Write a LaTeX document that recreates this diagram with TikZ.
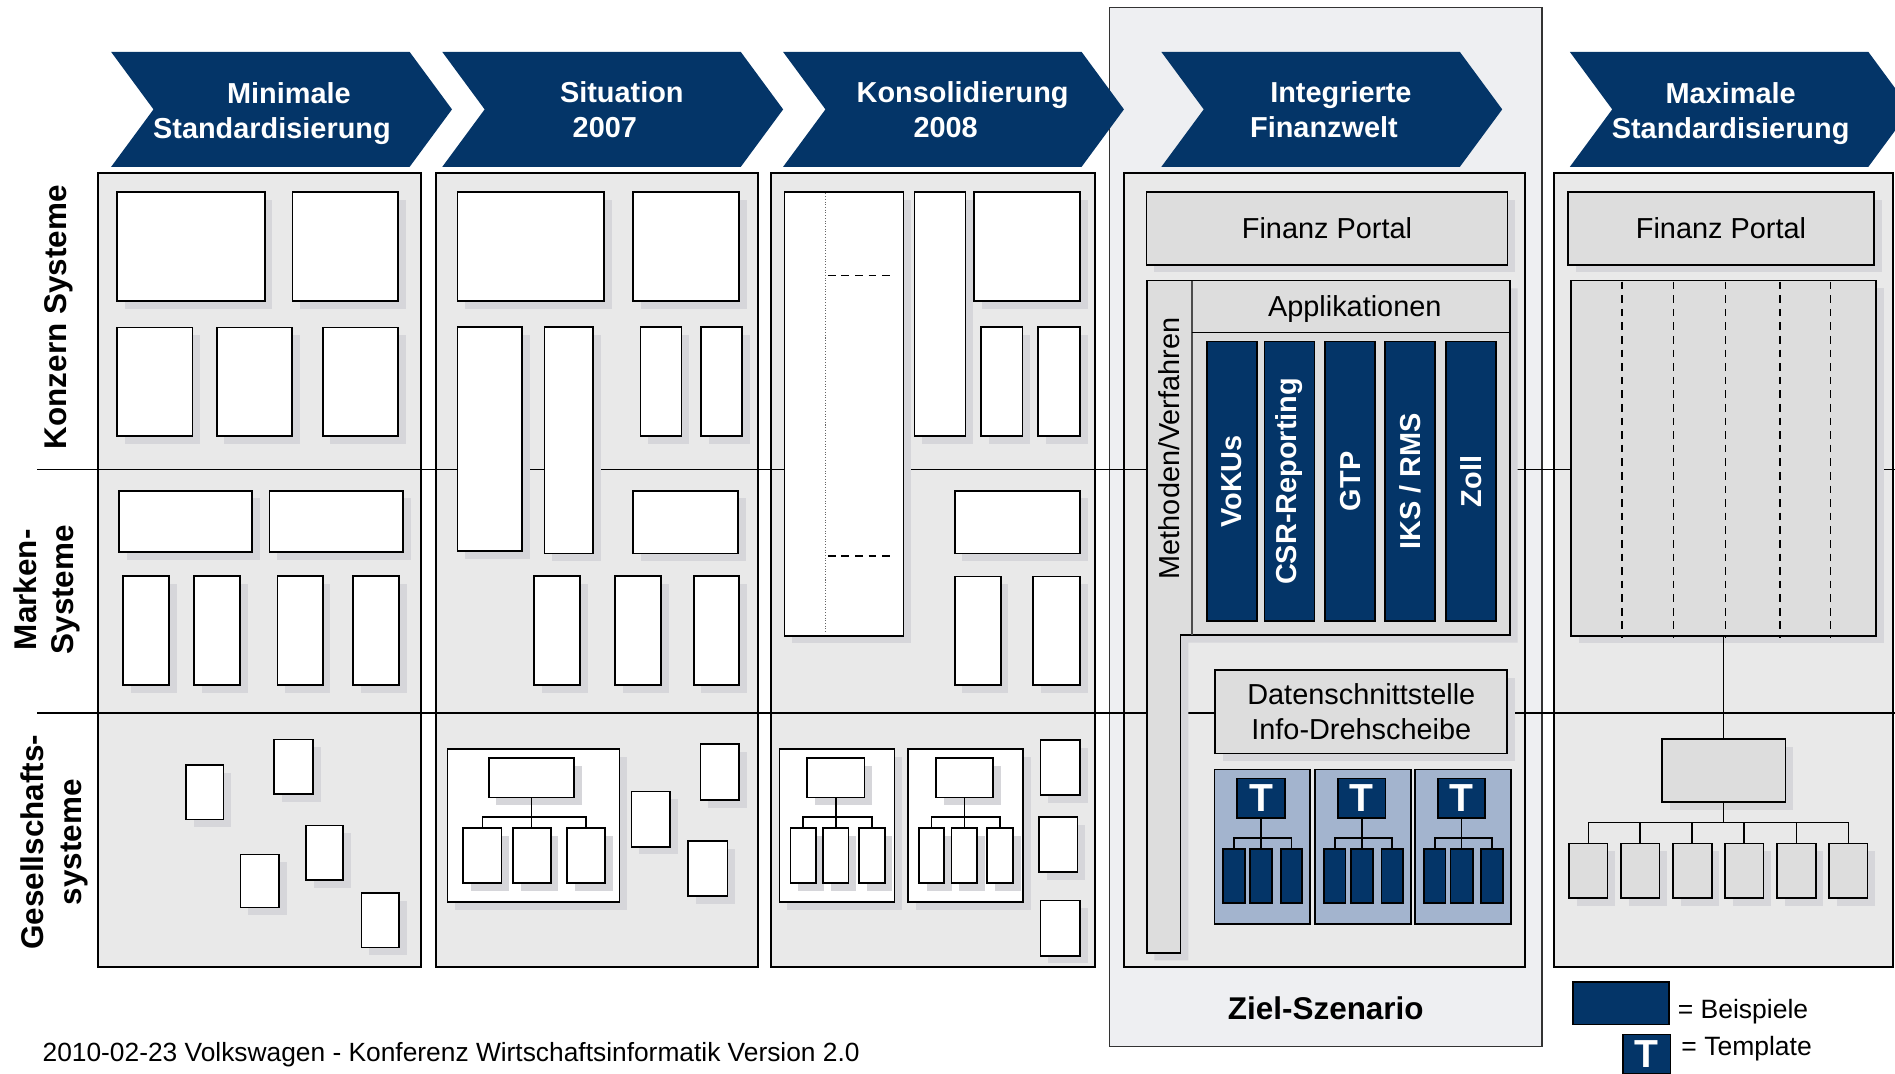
\documentclass[tikz,border=0pt]{standalone}
\usepackage{fontspec}
\setmainfont{Liberation Sans}
\usetikzlibrary{positioning}
\usetikzlibrary{fit}
\usetikzlibrary{shadows}
\definecolor{vwblue}{RGB}{4,53,104}
\definecolor{panelgray}{RGB}{233,233,233}
\definecolor{boxgray}{RGB}{221,221,221}
\definecolor{shadegray}{RGB}{214,214,218}
\definecolor{zielgray}{RGB}{238,239,242}
\definecolor{tplblue}{RGB}{163,180,206}
\tikzset{head/.style = {fill=vwblue}}
\tikzset{headtext/.style = {text=white, align=center, font=\fontsize{17}{20.6}\selectfont\bfseries}}
\tikzset{rowlabel/.style = {rotate=90, align=center, font=\fontsize{18.5}{22}\selectfont\bfseries}}
\tikzset{panel/.style = {draw, line width=1.2pt, fill=panelgray}}
\tikzset{ziel/.style = {draw=black!80, line width=0.8pt, fill=zielgray}}
\tikzset{rowline/.style = {line width=1pt}}
\tikzset{conn/.style = {line width=1pt}}
\tikzset{wbox/.style = {draw, line width=1pt, fill=white, inner sep=0,
                        drop shadow={shadow xshift=0.16cm, shadow yshift=-0.16cm, fill=shadegray, opacity=1}}}
\tikzset{gbox/.style = {wbox, fill=boxgray}}
\tikzset{nbox/.style = {draw, line width=1pt, fill=vwblue, text=white, inner sep=0}}
\tikzset{appbar/.style = {nbox, rotate=90, minimum width=5.78cm, minimum height=1.03cm,
                          font=\fontsize{17}{17}\selectfont\bfseries}}
\tikzset{tpl/.style = {draw, line width=1pt, fill=tplblue, inner sep=0}}
\tikzset{tbox/.style = {nbox, minimum width=0.98cm, minimum height=0.82cm,
                        font=\fontsize{23}{23}\selectfont\bfseries}}
\tikzset{txt/.style = {inner sep=0, align=center, font=\fontsize{17}{20.6}\selectfont}}
\tikzset{dashline/.style = {line width=0.9pt, dash pattern=on 4.5pt off 3.5pt}}

\begin{document}
\begin{tikzpicture}[x=0.025cm, y=-0.025cm]
    \useasboundingbox (0,0) rectangle (1568,888);

    \draw [ziel] (918,6) rectangle (1276,866);

    \fill [head] (92,43) -- ++(247,0) -- ++(35,47.5) -- ++(-35,47.5) -- ++(-247,0) -- ++(35,-47.5) -- cycle;
    \fill [head] (366,43) -- ++(247,0) -- ++(35,47.5) -- ++(-35,47.5) -- ++(-247,0) -- ++(35,-47.5) -- cycle;
    \fill [head] (648,43) -- ++(247,0) -- ++(35,47.5) -- ++(-35,47.5) -- ++(-247,0) -- ++(35,-47.5) -- cycle;
    \fill [head] (961,43) -- ++(247,0) -- ++(35,47.5) -- ++(-35,47.5) -- ++(-247,0) -- ++(35,-47.5) -- cycle;
    \fill [head] (1299,43) -- ++(247,0) -- ++(35,47.5) -- ++(-35,47.5) -- ++(-247,0) -- ++(35,-47.5) -- cycle;

    \node [headtext] (h1) at (232,94) {\hspace*{0.35cm}Minimale\\Standardisierung\hspace*{0.35cm}};
    \node [headtext] (h2) at (507.5,91) {\hspace*{0.35cm}Situation\\2007\hspace*{0.35cm}};
    \node [headtext] (h3) at (789.5,91) {\hspace*{0.35cm}Konsolidierung\\2008\hspace*{0.35cm}};
    \node [headtext] (h4) at (1102.5,91) {\hspace*{0.35cm}Integrierte\\Finanzwelt\hspace*{0.35cm}};
    \node [headtext] (h5) at (1432,94) {Maximale\\Standardisierung};

    \draw [panel] (81,143.4) rectangle (348.5,800);
    \draw [panel] (360.4,143.4) rectangle (627.5,800);
    \draw [panel] (638.2,143.4) rectangle (905.7,800);
    \draw [panel] (930.3,143.4) rectangle (1262,800);
    \draw [panel] (1286,143.4) rectangle (1566,800);

    \draw [rowline] (30.7,388.6) -- (1568,388.6);
    \draw [rowline] (30.7,590) -- (1568,590);

    \node [rowlabel] (r1) at (49,262.5) {Konzern Systeme};
    \node [rowlabel] (r2) at (39,488) {Marken-\\Systeme};
    \node [rowlabel] (r3) at (45,697) {Gesellschafts-\\systeme};

    \node [wbox, fit={(97,159) (219,249)}] (k1) {};
    \node [wbox, fit={(242,159) (329.5,249)}] (k2) {};
    \node [wbox, fit={(97,271) (159.4,361)}] (k3) {};
    \node [wbox, fit={(179.3,271) (241.8,361)}] (k4) {};
    \node [wbox, fit={(267,271) (329.3,361)}] (k5) {};
    \node [wbox, fit={(98.3,406) (208.7,457)}] (m1) {};
    \node [wbox, fit={(223,406) (333.7,457)}] (m2) {};
    \node [wbox, fit={(102,476.6) (139.8,567)}] (m3) {};
    \node [wbox, fit={(160.8,476.6) (198.6,567)}] (m4) {};
    \node [wbox, fit={(229.6,476.6) (267,567)}] (m5) {};
    \node [wbox, fit={(292,476.6) (330.3,567)}] (m6) {};
    \node [wbox, fit={(154,633) (185,678)}] (g1) {};
    \node [wbox, fit={(227,612) (259,657)}] (g2) {};
    \node [wbox, fit={(253,683) (284,728)}] (g3) {};
    \node [wbox, fit={(199,707) (231,751)}] (g4) {};
    \node [wbox, fit={(299,739) (330,784)}] (g5) {};

    \node [wbox, fit={(378.5,159) (499.7,249)}] (k6) {};
    \node [wbox, fit={(523.7,159) (611.5,249)}] (k7) {};
    \node [wbox, fit={(378.5,270.5) (432,456)}] (k8) {};
    \node [wbox, fit={(450.6,270.5) (490.8,458)}] (k9) {};
    \node [wbox, fit={(530,270.5) (564,361)}] (k10) {};
    \node [wbox, fit={(580,270.5) (614,361)}] (k11) {};
    \node [wbox, fit={(523.7,406) (610.6,458)}] (m7) {};
    \node [wbox, fit={(442,476.6) (480,567)}] (m8) {};
    \node [wbox, fit={(509,476.6) (547,567)}] (m9) {};
    \node [wbox, fit={(574,476.6) (611.5,567)}] (m10) {};
    \node [wbox, fit={(370.4,619.7) (512.6,746.6)}] (o1) {};
    \node [wbox, fit={(404.4,627) (475,660)}] (t1) {};
    \node [wbox, fit={(383.3,685.3) (415,730.8)}] (c1) {};
    \node [wbox, fit={(424.4,685.3) (455.7,730.8)}] (c2) {};
    \node [wbox, fit={(469,685.3) (500.8,730.8)}] (c3) {};
    \draw [conn] (t1.south) -- (t1.south |- c2.north);
    \draw [conn] (c1.north) -- ++(0,-8.7) -| (c3.north);
    \node [wbox, fit={(522.6,655) (554.4,700.6)}] (g6) {};
    \node [wbox, fit={(579.5,615.8) (611.6,662)}] (g7) {};
    \node [wbox, fit={(569.5,695.8) (602,741.4)}] (g8) {};

    \node [wbox, fit={(649,159) (747.6,526)}] (k12) {};
    \draw [densely dotted, black!60, line width=0.6pt] (683,160) -- (683,523);
    \draw [dashline] (685,228) -- (739,228);
    \draw [dashline] (685,460) -- (739,460);
    \node [wbox, fit={(756.8,159) (799,361)}] (k13) {};
    \node [wbox, fit={(806,159) (893.6,249)}] (k14) {};
    \node [wbox, fit={(811.7,270.5) (846,361)}] (k15) {};
    \node [wbox, fit={(859,270.5) (893.6,361)}] (k16) {};
    \node [wbox, fit={(790,406) (893.6,458)}] (m11) {};
    \node [wbox, fit={(790,477) (828,567)}] (m12) {};
    \node [wbox, fit={(854.7,477) (893.6,567)}] (m13) {};
    \begin{scope}
      \node [wbox, fit={(644.9,619.7) (740.2,746.6)}] (o2) {};
      \node [wbox, fit={(668,627) (715.4,660)}] (t2) {};
      \node [wbox, fit={(654,685.3) (675,730.8)}] (c1) {};
      \node [wbox, fit={(681,685.3) (702,730.8)}] (c2) {};
      \node [wbox, fit={(710.6,685.3) (732,730.8)}] (c3) {};
      \draw [conn] (t2.south) -- (t2.south |- c2.north);
      \draw [conn] (c1.north) -- ++(0,-8.7) -| (c3.north);
    \end{scope}
    \begin{scope}[shift={(106.3,0)}]
      \node [wbox, fit={(644.9,619.7) (740.2,746.6)}] (o2) {};
      \node [wbox, fit={(668,627) (715.4,660)}] (t2) {};
      \node [wbox, fit={(654,685.3) (675,730.8)}] (c1) {};
      \node [wbox, fit={(681,685.3) (702,730.8)}] (c2) {};
      \node [wbox, fit={(710.6,685.3) (732,730.8)}] (c3) {};
      \draw [conn] (t2.south) -- (t2.south |- c2.north);
      \draw [conn] (c1.north) -- ++(0,-8.7) -| (c3.north);
    \end{scope}
    \node [wbox, fit={(861,612.3) (893.5,657.8)}] (g9) {};
    \node [wbox, fit={(859.8,676.2) (891.6,721.7)}] (g10) {};
    \node [wbox, fit={(861,745.2) (893.5,790.8)}] (g11) {};

    \node [gbox, txt, minimum width=7.46cm, minimum height=1.5cm] (fp1) at (1098,189) {Finanz Portal};
    \draw [gbox] (948.8,232.2) -- (1249.4,232.2) -- (1249.4,525.4) -- (976.9,525.4)
                 -- (976.9,788.3) -- (948.8,788.3) -- cycle;
    \draw [line width=0.6pt, black!70] (986.3,232.2) -- (986.3,525.4);
    \draw [conn] (986.3,275.2) -- (1249.4,275.2);
    \node [txt] (app) at (1121,256) {Applikationen};
    \node [txt, rotate=90] (meth) at (967.5,371) {Methoden/Verfahren};
    \node [appbar] (v1) at (1019.5,398.3) {VoKUs};
    \node [appbar] (v2) at (1067,398.3) {CSR-Reporting};
    \node [appbar] (v3) at (1117.2,398.3) {GTP};
    \node [appbar] (v4) at (1166.8,398.3) {IKS / RMS};
    \node [appbar] (v5) at (1217.3,398.3) {Zoll};
    \node [gbox, txt, minimum width=6.04cm, minimum height=1.72cm] (dat) at (1126.4,589)
      {Datenschnittstelle\\Info-Drehscheibe};
    \begin{scope}
      \node [tpl, fit={(1005,636.8) (1084,764.3)}] (tp) {};
      \node [tbox] (t) at (1043.4,660.5) {T};
      \node [nbox, fit={(1012.2,702.7) (1030.1,747.4)}] (c1) {};
      \node [nbox, fit={(1034.3,702.7) (1052.7,747.4)}] (c2) {};
      \node [nbox, fit={(1059.7,702.7) (1077.5,747.4)}] (c3) {};
      \draw [conn] (t.south) -- (t.south |- c2.north);
      \draw [conn] (c1.north) -- ++(0,-8.7) -| (c3.north);
    \end{scope}
    \begin{scope}[shift={(83.3,0)}]
      \node [tpl, fit={(1005,636.8) (1084,764.3)}] (tp) {};
      \node [tbox] (t) at (1043.4,660.5) {T};
      \node [nbox, fit={(1012.2,702.7) (1030.1,747.4)}] (c1) {};
      \node [nbox, fit={(1034.3,702.7) (1052.7,747.4)}] (c2) {};
      \node [nbox, fit={(1059.7,702.7) (1077.5,747.4)}] (c3) {};
      \draw [conn] (t.south) -- (t.south |- c2.north);
      \draw [conn] (c1.north) -- ++(0,-8.7) -| (c3.north);
    \end{scope}
    \begin{scope}[shift={(166,0)}]
      \node [tpl, fit={(1005,636.8) (1084,764.3)}] (tp) {};
      \node [tbox] (t) at (1043.4,660.5) {T};
      \node [nbox, fit={(1012.2,702.7) (1030.1,747.4)}] (c1) {};
      \node [nbox, fit={(1034.3,702.7) (1052.7,747.4)}] (c2) {};
      \node [nbox, fit={(1059.7,702.7) (1077.5,747.4)}] (c3) {};
      \draw [conn] (t.south) -- (t.south |- c2.north);
      \draw [conn] (c1.north) -- ++(0,-8.7) -| (c3.north);
    \end{scope}
    \node [font=\fontsize{18.5}{18.5}\selectfont\bfseries] (ziel) at (1097,834) {Ziel-Szenario};

    \node [gbox, txt, minimum width=6.33cm, minimum height=1.5cm] (fp2) at (1424,189) {Finanz Portal};
    \node [gbox, fit={(1300.1,232.2) (1552.4,526)}] (big) {};
    \draw [dashline] (1342.3,233) -- (1342.3,528);
    \draw [dashline] (1384.9,233) -- (1384.9,528);
    \draw [dashline] (1427.8,233) -- (1427.8,528);
    \draw [dashline] (1473,233) -- (1473,528);
    \draw [dashline] (1514.6,233) -- (1514.6,528);
    \node [gbox, fit={(1375,611.7) (1477.3,663.7)}] (mid) {};
    \coordinate (b5) at (1424,680.5);
    \node [gbox, fit={(1298.4,698) (1330.2,743.3)}] (d1) {};
    \node [gbox, fit={(1341.2,698) (1373.1,743.3)}] (d2) {};
    \node [gbox, fit={(1384.2,698) (1416.3,743.3)}] (d3) {};
    \node [gbox, fit={(1427.4,698) (1459.2,743.3)}] (d4) {};
    \node [gbox, fit={(1470.6,698) (1502.4,743.3)}] (d5) {};
    \node [gbox, fit={(1513.6,698) (1545.3,743.3)}] (d6) {};
    \draw [conn] (mid.north) -- (mid.north |- big.south);
    \draw [conn] (mid.south) -- (mid.south |- b5);
    \draw [conn] (d1.north) |- (b5) -| (d6.north);
    \draw [conn] (d2.north) -- (d2.north |- b5);
    \draw [conn] (d3.north) -- (d3.north |- b5);
    \draw [conn] (d4.north) -- (d4.north |- b5);
    \draw [conn] (d5.north) -- (d5.north |- b5);

    \node [nbox, fit={(1301.8,812.7) (1380.8,847.7)}] (lg1) {};
    \node [txt, anchor=west, font=\fontsize{15.6}{15.6}\selectfont] (lgt1) at (1388,837) {= Beispiele};
    \node [tbox] (lg2) at (1362.6,872.5) {T};
    \node [txt, anchor=west, font=\fontsize{15.6}{15.6}\selectfont] (lgt2) at (1391,868) {= Template};

    \node [txt, anchor=west, font=\fontsize{15.5}{15.5}\selectfont] (foot) at (35,873)
      {2010-02-23 Volkswagen - Konferenz Wirtschaftsinformatik Version 2.0};
\end{tikzpicture}
\end{document}
